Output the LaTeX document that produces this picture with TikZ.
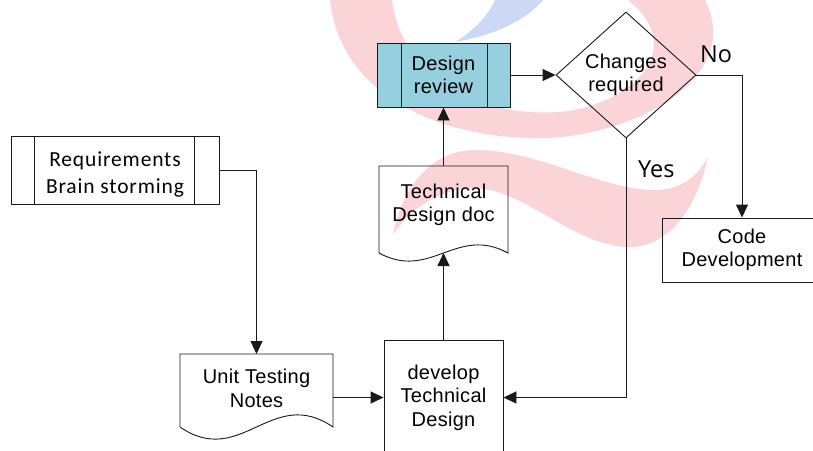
\documentclass[tikz,border=0pt]{standalone}
\usepackage{fontspec}
\setmainfont{Liberation Sans}
\newfontfamily\calfont[LetterSpace=4]{Carlito}
\newfontfamily\arfont[LetterSpace=1.5]{Liberation Sans}
\newfontfamily\osfont{Open Sans}
\usetikzlibrary{arrows.meta,shapes.geometric,calc}
\definecolor{drfill}{RGB}{150,207,221}
\definecolor{wmred}{RGB}{251,212,216}
\definecolor{wmblue}{RGB}{203,216,246}
\definecolor{ln}{RGB}{25,25,25}
\tikzset{
  shapebox/.style={draw=ln,line width=0.9pt,inner sep=0pt},
  docbox/.style={inner sep=0pt,outer sep=0pt},
  arrtxt/.style={font=\arfont\fontsize{20}{23.5}\selectfont,align=center,inner sep=0pt},
  caltxt/.style={font=\calfont\fontsize{21.5}{27}\selectfont,align=center,inner sep=0pt},
  lbl/.style={font=\osfont\fontsize{23.5}{28}\selectfont,inner sep=0pt},
  conn/.style={draw=ln,line width=0.9pt,-{Triangle[length=13pt,width=12pt]}},
  plainline/.style={draw=ln,line width=0.9pt}
}
\begin{document}
\begin{tikzpicture}[x=1pt,y=-1pt]
\useasboundingbox (0,0) rectangle (813,450);
\fill[white] (0,0) rectangle (813,450);
% watermark
\fill[wmred] (330,0) .. controls (340,95) and (440,140) .. (545,138)
  .. controls (630,136) and (745,80) .. (705,0) -- (628,0)
  .. controls (690,50) and (630,105) .. (560,112)
  .. controls (470,118) and (400,70) .. (392,0) -- cycle;
\fill[wmblue] (455,42) .. controls (500,34) and (528,18) .. (543,0) -- (495,0)
  .. controls (488,16) and (472,32) .. (455,42) -- cycle;
\fill[wmred] (393,235) .. controls (405,175) and (440,150) .. (475,150)
  .. controls (540,150) and (600,190) .. (655,190)
  .. controls (685,190) and (700,172) .. (708,157)
  .. controls (695,215) and (665,247) .. (630,247)
  .. controls (580,247) and (535,200) .. (490,190)
  .. controls (450,182) and (412,205) .. (393,235) -- cycle;

% Requirements
\node[shapebox,minimum width=208,minimum height=68] (req) at (115,170) {};
\draw[plainline] ($(req.north west)+(24,0)$) -- ($(req.south west)+(24,0)$);
\draw[plainline] ($(req.north east)+(-25,0)$) -- ($(req.south east)+(-25,0)$);
\node[caltxt] (reqt) at ($(req.center)+(0,4)$) {Requirements\\Brain storming};

% Design review
\node[shapebox,fill=drfill,minimum width=133,minimum height=64] (dr) at (443.5,75) {};
\draw[plainline] ($(dr.north west)+(25,0)$) -- ($(dr.south west)+(25,0)$);
\draw[plainline] ($(dr.north east)+(-23,0)$) -- ($(dr.south east)+(-23,0)$);
\node[arrtxt] (drt) at (dr.center) {Design\\review};

% Changes required
\node[draw=ln,line width=0.9pt,diamond,minimum width=140,minimum height=126,inner sep=0pt] (ch) at (626,75) {};
\node[arrtxt] (cht) at (ch.center) {Changes\\required};

% Technical Design doc
\node[docbox,minimum width=129,minimum height=87] (td) at (443.5,209.5) {};
\draw[plainline] (td.south west) -- (td.north west) -- (td.north east) -- (td.south east)
  .. controls ($(td.south west)+(0.6*129,-28)$) and ($(td.south west)+(0.4*129,28)$) .. (td.south west);
\node[arrtxt] (tdt) at ($(td.center)+(0,-4.5)$) {Technical\\Design doc};

% Unit Testing Notes
\node[docbox,minimum width=153,minimum height=73] (ut) at (256.5,390.5) {};
\draw[plainline] (ut.south west) -- (ut.north west) -- (ut.north east) -- (ut.south east)
  .. controls ($(ut.south west)+(0.6*153,-42)$) and ($(ut.south west)+(0.4*153,42)$) .. (ut.south west);
\node[arrtxt] (utt) at ($(ut.center)+(0,-2)$) {Unit Testing\\Notes};

% develop Technical Design
\node[shapebox,minimum width=119,minimum height=115] (dev) at (443.5,397.5) {};
\node[arrtxt] (devt) at (dev.center) {develop\\Technical\\Design};

% Code Development
\node[shapebox,minimum width=160,minimum height=64] (cd) at (742,250) {};
\node[arrtxt] (cdt) at (cd.center) {Code\\Development};

% labels
\node[lbl,anchor=base west] (no) at (700,62) {No};
\node[lbl,anchor=base west] (yes) at (638,177) {Yes};

% connectors
\draw[conn] (req.east) -| (ut.north);
\draw[conn] (ut.east |- dev.west) -- (dev.west);
\draw[conn] (dev.north) -- (td.south);
\draw[conn] (td.north) -- (dr.south);
\draw[conn] (dr.east) -- (ch.west);
\draw[conn] (ch.east) -| (cd.north);
\draw[conn] (ch.south) |- (dev.east);
\end{tikzpicture}
\end{document}
